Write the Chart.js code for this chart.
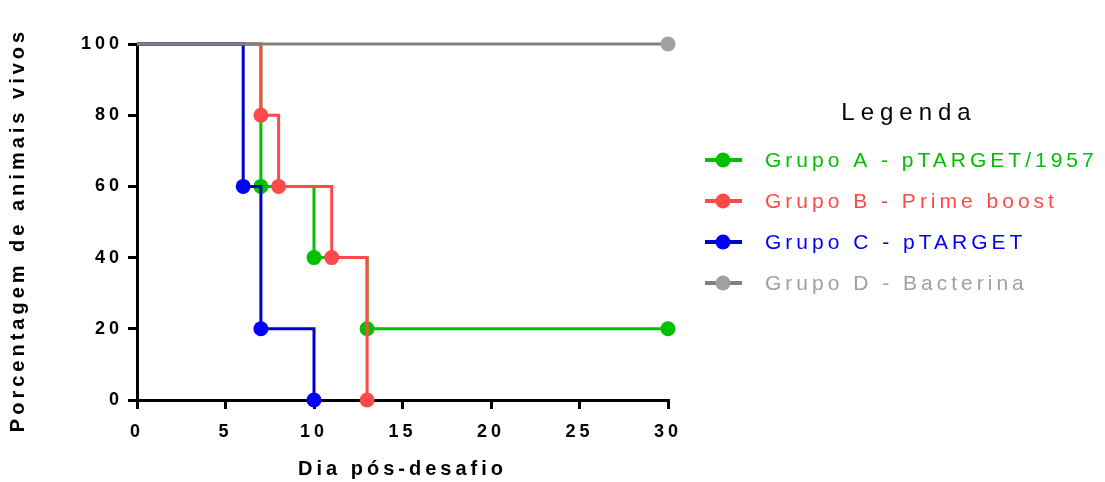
<!DOCTYPE html>
<html>
<head>
<meta charset="utf-8">
<script src="https://cdn.jsdelivr.net/npm/chart.js@4/dist/chart.umd.min.js"></script>
<style>
  html, body { margin: 0; padding: 0; background: #ffffff; }
  canvas { display: block; }
</style>
</head>
<body>
<canvas id="c" width="1105" height="482"></canvas>
<script>
// ---- data ----
const groupLabels = ['Grupo A - pTARGET/1957', 'Grupo B - Prime boost', 'Grupo C - pTARGET', 'Grupo D - Bacterina'];
const daysA = [0, 7, 10, 13, 30];
const survA = [100, 60, 40, 20, 20];
const daysB = [0, 7, 8, 11, 13];
const survB = [100, 80, 60, 40, 0];
const daysC = [0, 6, 7, 10];
const survC = [100, 60, 20, 0];
const daysD = [0, 30];
const survD = [100, 100];
const xTicks = [0, 5, 10, 15, 20, 25, 30];
const yTicks = [0, 20, 40, 60, 80, 100];
const xTitle = 'Dia pós-desafio';
const yTitle = 'Porcentagem de animais vivos';
const legendTitle = 'Legenda';

// ---- styles ----
const lineColors  = ['#00c000', '#ff4a4a', '#0000c8', '#808080'];
const pointColors = ['#00c000', '#ff4a4a', '#0000ff', '#a0a0a4'];
const textColors  = ['#00c000', '#ff4a4a', '#0000ff', '#a0a0a4'];
const drawOrder   = [3, 2, 1, 0];
const FONT = '"Liberation Sans", Arial, Helvetica, sans-serif';

function pts(xs, ys) { return xs.map((x, i) => ({ x: x, y: ys[i] })); }
const seriesX = [daysA, daysB, daysC, daysD];
const seriesY = [survA, survB, survC, survD];

const datasets = groupLabels.map((lab, i) => ({
  label: lab,
  data: pts(seriesX[i], seriesY[i]),
  stepped: 'before',
  borderColor: lineColors[i],
  backgroundColor: pointColors[i],
  pointBackgroundColor: pointColors[i],
  pointBorderColor: pointColors[i],
  pointBorderWidth: 0,
  borderWidth: 3,
  pointRadius: (ctx) => ctx.dataIndex === 0 ? 0 : 7.5,
  pointHoverRadius: (ctx) => ctx.dataIndex === 0 ? 0 : 7.5,
  fill: false,
  clip: false,
  order: drawOrder[i]
}));

const spacingPlugin = {
  id: 'spacing',
  beforeLayout(chart) { chart.ctx.letterSpacing = '4px'; },
  afterLayout(chart) {
    const s = chart.scales.y;
    if (s && !s._titleShifted) {
      const orig = s.drawTitle.bind(s);
      s.drawTitle = function () {
        const c = this.ctx;
        c.save();
        c.translate(0, 8);
        orig();
        c.restore();
      };
      s._titleShifted = true;
    }
  },
  beforeDraw(chart) { chart.ctx.letterSpacing = '4px'; }
};

const legendPlugin = {
  id: 'sideLegend',
  afterDraw(chart) {
    const ctx = chart.ctx;
    ctx.save();
    ctx.letterSpacing = '6px';
    ctx.font = '24px ' + FONT;
    ctx.fillStyle = '#000000';
    ctx.textAlign = 'center';
    ctx.textBaseline = 'middle';
    ctx.fillText(legendTitle, 909, 113);
    ctx.letterSpacing = '4px';
    ctx.font = '21px ' + FONT;
    ctx.textAlign = 'left';
    chart.data.datasets.forEach((ds, i) => {
      const y = 160 + i * 41;
      ctx.strokeStyle = lineColors[i];
      ctx.lineWidth = 4;
      ctx.beginPath();
      ctx.moveTo(705, y);
      ctx.lineTo(742, y);
      ctx.stroke();
      ctx.fillStyle = pointColors[i];
      ctx.beginPath();
      ctx.arc(723, y, 7.5, 0, Math.PI * 2);
      ctx.fill();
      ctx.fillStyle = textColors[i];
      ctx.fillText(ds.label, 765, y + 1);
    });
    ctx.restore();
  }
};

new Chart(document.getElementById('c'), {
  type: 'line',
  data: { datasets: datasets },
  plugins: [spacingPlugin, legendPlugin],
  options: {
    responsive: false,
    animation: false,
    devicePixelRatio: 1,
    events: [],
    layout: { padding: { left: 0, top: 44, right: 437, bottom: 0 } },
    plugins: { legend: { display: false }, tooltip: { enabled: false } },
    scales: {
      x: {
        type: 'linear',
        min: xTicks[0],
        max: xTicks[xTicks.length - 1],
        afterBuildTicks(scale) { scale.ticks = xTicks.map(v => ({ value: v })); },
        afterFit(scale) { scale.height = 82; },
        border: { display: true, color: '#000000', width: 3 },
        grid: { drawOnChartArea: false, drawTicks: true, tickLength: 9, tickWidth: 3, lineWidth: 3, color: '#000000' },
        ticks: { color: '#000000', padding: 12, maxRotation: 0, font: { family: FONT, size: 18, weight: 'bold' } },
        title: { display: true, text: xTitle, color: '#000000', padding: { top: 0, bottom: 1 }, font: { family: FONT, size: 20, weight: 'bold' } }
      },
      y: {
        type: 'linear',
        min: yTicks[0],
        max: yTicks[yTicks.length - 1],
        afterBuildTicks(scale) { scale.ticks = yTicks.map(v => ({ value: v })); },
        afterFit(scale) { scale.width = 137; },
        border: { display: true, color: '#000000', width: 3 },
        grid: { drawOnChartArea: false, drawTicks: true, tickLength: 9, tickWidth: 3, lineWidth: 3, color: '#000000' },
        ticks: { color: '#000000', padding: 5, font: { family: FONT, size: 18, weight: 'bold' } },
        title: { display: true, text: yTitle, color: '#000000', padding: { top: 6, bottom: 0 }, font: { family: FONT, size: 20, weight: 'bold' } }
      }
    }
  }
});
</script>
</body>
</html>
